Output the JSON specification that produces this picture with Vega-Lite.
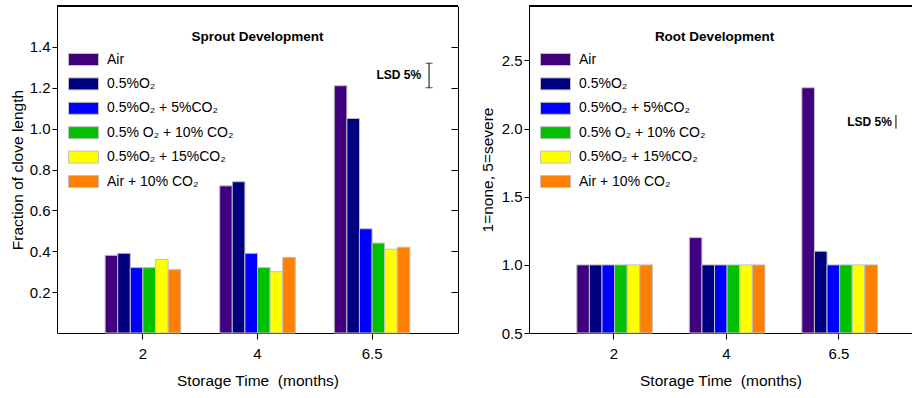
{
  "$schema": "https://vega.github.io/schema/vega-lite/v6.json",
  "padding": {"left": 10, "top": 5, "right": 0, "bottom": 0},
  "background": "white",
  "config": {
    "font": "Liberation Sans",
    "view": {"stroke": null},
    "axis": {
      "grid": false,
      "domainColor": "black",
      "tickColor": "black",
      "labelColor": "black",
      "titleColor": "black",
      "labelFont": "Liberation Sans",
      "titleFont": "Liberation Sans",
      "labelFontSize": 15,
      "titleFontSize": 15.5,
      "titleFontWeight": "normal"
    }
  },
  "datasets": {
    "sproutData": [
      {"time": "2", "treatment": "Air", "value": 0.38},
      {"time": "2", "treatment": "0.5%O₂", "value": 0.39},
      {"time": "2", "treatment": "0.5%O₂ + 5%CO₂", "value": 0.32},
      {"time": "2", "treatment": "0.5% O₂ + 10% CO₂", "value": 0.32},
      {"time": "2", "treatment": "0.5%O₂ + 15%CO₂", "value": 0.36},
      {"time": "2", "treatment": "Air + 10% CO₂", "value": 0.31},
      {"time": "4", "treatment": "Air", "value": 0.72},
      {"time": "4", "treatment": "0.5%O₂", "value": 0.74},
      {"time": "4", "treatment": "0.5%O₂ + 5%CO₂", "value": 0.39},
      {"time": "4", "treatment": "0.5% O₂ + 10% CO₂", "value": 0.32},
      {"time": "4", "treatment": "0.5%O₂ + 15%CO₂", "value": 0.30},
      {"time": "4", "treatment": "Air + 10% CO₂", "value": 0.37},
      {"time": "6.5", "treatment": "Air", "value": 1.21},
      {"time": "6.5", "treatment": "0.5%O₂", "value": 1.05},
      {"time": "6.5", "treatment": "0.5%O₂ + 5%CO₂", "value": 0.51},
      {"time": "6.5", "treatment": "0.5% O₂ + 10% CO₂", "value": 0.44},
      {"time": "6.5", "treatment": "0.5%O₂ + 15%CO₂", "value": 0.41},
      {"time": "6.5", "treatment": "Air + 10% CO₂", "value": 0.42}
    ],
    "rootData": [
      {"time": "2", "treatment": "Air", "value": 1.0},
      {"time": "2", "treatment": "0.5%O₂", "value": 1.0},
      {"time": "2", "treatment": "0.5%O₂ + 5%CO₂", "value": 1.0},
      {"time": "2", "treatment": "0.5% O₂ + 10% CO₂", "value": 1.0},
      {"time": "2", "treatment": "0.5%O₂ + 15%CO₂", "value": 1.0},
      {"time": "2", "treatment": "Air + 10% CO₂", "value": 1.0},
      {"time": "4", "treatment": "Air", "value": 1.2},
      {"time": "4", "treatment": "0.5%O₂", "value": 1.0},
      {"time": "4", "treatment": "0.5%O₂ + 5%CO₂", "value": 1.0},
      {"time": "4", "treatment": "0.5% O₂ + 10% CO₂", "value": 1.0},
      {"time": "4", "treatment": "0.5%O₂ + 15%CO₂", "value": 1.0},
      {"time": "4", "treatment": "Air + 10% CO₂", "value": 1.0},
      {"time": "6.5", "treatment": "Air", "value": 2.3},
      {"time": "6.5", "treatment": "0.5%O₂", "value": 1.1},
      {"time": "6.5", "treatment": "0.5%O₂ + 5%CO₂", "value": 1.0},
      {"time": "6.5", "treatment": "0.5% O₂ + 10% CO₂", "value": 1.0},
      {"time": "6.5", "treatment": "0.5%O₂ + 15%CO₂", "value": 1.0},
      {"time": "6.5", "treatment": "Air + 10% CO₂", "value": 1.0}
    ]
  },
  "spacing": 21,
  "resolve": {"legend": {"color": "independent"}},
  "hconcat": [
    {
      "width": 401,
      "height": 327,
      "title": {"text": "Sprout Development", "fontSize": 13.5, "fontWeight": "bold", "font": "Liberation Sans", "color": "black", "anchor": "middle", "offset": -49, "baseline": "alphabetic"},
      "data": {"name": "sproutData"},
      "resolve": {"axis": {"y": "independent"}},
      "layer": [
        {
          "mark": {"type": "bar", "stroke": "#c0c0c0", "strokeWidth": 1},
          "encoding": {
            "x": {"field": "time", "type": "nominal", "sort": ["2", "4", "6.5"], "scale": {"paddingInner": 0.34, "paddingOuter": 0.42}, "axis": {"title": "Storage Time\u00a0 (months)", "labelAngle": 0, "tickSize": 6, "labelPadding": 7, "titlePadding": 12}},
            "xOffset": {"field": "treatment", "type": "nominal", "sort": ["Air", "0.5%O₂", "0.5%O₂ + 5%CO₂", "0.5% O₂ + 10% CO₂", "0.5%O₂ + 15%CO₂", "Air + 10% CO₂"], "scale": {"paddingInner": 0, "paddingOuter": 0}},
            "y": {"field": "value", "type": "quantitative", "scale": {"domain": [0, 1.6], "nice": false}, "axis": {"title": "Fraction of clove length", "values": [0.2, 0.4, 0.6, 0.8, 1.0, 1.2, 1.4], "format": ".1f", "tickSize": 5, "labelPadding": 2, "titlePadding": 4}},
            "color": {"field": "treatment", "type": "nominal", "sort": ["Air", "0.5%O₂", "0.5%O₂ + 5%CO₂", "0.5% O₂ + 10% CO₂", "0.5%O₂ + 15%CO₂", "Air + 10% CO₂"], "scale": {"domain": ["Air", "0.5%O₂", "0.5%O₂ + 5%CO₂", "0.5% O₂ + 10% CO₂", "0.5%O₂ + 15%CO₂", "Air + 10% CO₂"], "range": ["#400080", "#000080", "#0000ff", "#00c000", "#ffff00", "#ff8000"]}, "legend": {"title": null, "orient": "none", "legendX": 11, "legendY": 38, "padding": 0, "labelFont": "Liberation Sans", "labelFontSize": 14, "labelColor": "black", "labelLimit": 300, "labelOffset": 8, "rowPadding": 0.4, "symbolType": "M-1,-0.4H1V0.4H-1Z", "symbolSize": 900, "symbolStrokeColor": "#c0c0c0", "symbolStrokeWidth": 1, "symbolOpacity": 1}}
          }
        },
        {
          "mark": {"type": "rule", "color": "black", "strokeWidth": 1},
          "encoding": {"y": {"datum": 1.6, "type": "quantitative", "axis": null}}
        },
        {
          "data": {"values": [{"time": "6.5", "lo": 1.2, "hi": 1.32, "mid": 1.26, "label": "LSD 5%"}]},
          "mark": {"type": "rule", "color": "black", "strokeWidth": 1, "xOffset": 57},
          "encoding": {
            "x": {"field": "time", "type": "nominal"},
            "y": {"field": "lo", "type": "quantitative", "axis": {"orient": "right", "labels": false, "domain": true, "tickSize": -7, "title": null, "values": [0.2, 0.4, 0.6, 0.8, 1.0, 1.2, 1.4]}},
            "y2": {"field": "hi"}
          }
        },
        {
          "data": {"values": [{"time": "6.5", "lo": 1.2, "hi": 1.32, "mid": 1.26, "label": "LSD 5%"}]},
          "mark": {"type": "tick", "color": "black", "thickness": 1, "size": 7, "orient": "horizontal", "xOffset": 57},
          "encoding": {
            "x": {"field": "time", "type": "nominal"},
            "y": {"field": "lo", "type": "quantitative", "axis": null}
          }
        },
        {
          "data": {"values": [{"time": "6.5", "lo": 1.2, "hi": 1.32, "mid": 1.26, "label": "LSD 5%"}]},
          "mark": {"type": "tick", "color": "black", "thickness": 1, "size": 7, "orient": "horizontal", "xOffset": 57},
          "encoding": {
            "x": {"field": "time", "type": "nominal"},
            "y": {"field": "hi", "type": "quantitative", "axis": null}
          }
        },
        {
          "data": {"values": [{"time": "6.5", "lo": 1.2, "hi": 1.32, "mid": 1.26, "label": "LSD 5%"}]},
          "mark": {"type": "text", "align": "right", "baseline": "middle", "fontWeight": "bold", "fontSize": 12, "font": "Liberation Sans", "color": "black", "xOffset": 49},
          "encoding": {
            "x": {"field": "time", "type": "nominal"},
            "y": {"field": "mid", "type": "quantitative", "axis": null},
            "text": {"field": "label"}
          }
        }
      ]
    },
    {
      "width": 383,
      "height": 327,
      "title": {"text": "Root Development", "fontSize": 13.5, "fontWeight": "bold", "font": "Liberation Sans", "color": "black", "anchor": "middle", "offset": -49, "baseline": "alphabetic", "dx": -6},
      "data": {"name": "rootData"},
      "layer": [
        {
          "mark": {"type": "bar", "stroke": "#c0c0c0", "strokeWidth": 1},
          "encoding": {
            "x": {"field": "time", "type": "nominal", "sort": ["2", "4", "6.5"], "scale": {"paddingInner": 0.34, "paddingOuter": 0.372, "align": 0.571}, "axis": {"title": "Storage Time\u00a0 (months)", "labelAngle": 0, "tickSize": 6, "labelPadding": 7, "titlePadding": 12}},
            "xOffset": {"field": "treatment", "type": "nominal", "sort": ["Air", "0.5%O₂", "0.5%O₂ + 5%CO₂", "0.5% O₂ + 10% CO₂", "0.5%O₂ + 15%CO₂", "Air + 10% CO₂"], "scale": {"paddingInner": 0, "paddingOuter": 0}},
            "y": {"field": "value", "type": "quantitative", "scale": {"domain": [0.5, 2.9], "nice": false, "zero": false}, "axis": {"title": "1=none, 5=severe", "values": [0.5, 1.0, 1.5, 2.0, 2.5], "format": ".1f", "tickSize": 5, "labelPadding": 2, "titlePadding": 6}},
            "y2": {"datum": 0.5},
            "color": {"field": "treatment", "type": "nominal", "sort": ["Air", "0.5%O₂", "0.5%O₂ + 5%CO₂", "0.5% O₂ + 10% CO₂", "0.5%O₂ + 15%CO₂", "Air + 10% CO₂"], "scale": {"domain": ["Air", "0.5%O₂", "0.5%O₂ + 5%CO₂", "0.5% O₂ + 10% CO₂", "0.5%O₂ + 15%CO₂", "Air + 10% CO₂"], "range": ["#400080", "#000080", "#0000ff", "#00c000", "#ffff00", "#ff8000"]}, "legend": {"title": null, "orient": "none", "legendX": 11, "legendY": 38, "padding": 0, "labelFont": "Liberation Sans", "labelFontSize": 14, "labelColor": "black", "labelLimit": 300, "labelOffset": 8, "rowPadding": 0.4, "symbolType": "M-1,-0.4H1V0.4H-1Z", "symbolSize": 900, "symbolStrokeColor": "#c0c0c0", "symbolStrokeWidth": 1, "symbolOpacity": 1}}
          }
        },
        {
          "mark": {"type": "rule", "color": "black", "strokeWidth": 1},
          "encoding": {"y": {"datum": 2.9, "type": "quantitative"}}
        },
        {
          "data": {"values": [{"time": "6.5", "lo": 2.0, "hi": 2.1, "mid": 2.05, "label": "LSD 5%"}]},
          "mark": {"type": "rule", "color": "black", "strokeWidth": 1, "xOffset": 57},
          "encoding": {
            "x": {"field": "time", "type": "nominal"},
            "y": {"field": "lo", "type": "quantitative"},
            "y2": {"field": "hi"}
          }
        },
        {
          "data": {"values": [{"time": "6.5", "lo": 2.0, "hi": 2.1, "mid": 2.05, "label": "LSD 5%"}]},
          "mark": {"type": "text", "align": "right", "baseline": "middle", "fontWeight": "bold", "fontSize": 12, "font": "Liberation Sans", "color": "black", "xOffset": 53},
          "encoding": {
            "x": {"field": "time", "type": "nominal"},
            "y": {"field": "mid", "type": "quantitative"},
            "text": {"field": "label"}
          }
        }
      ]
    }
  ]
}
